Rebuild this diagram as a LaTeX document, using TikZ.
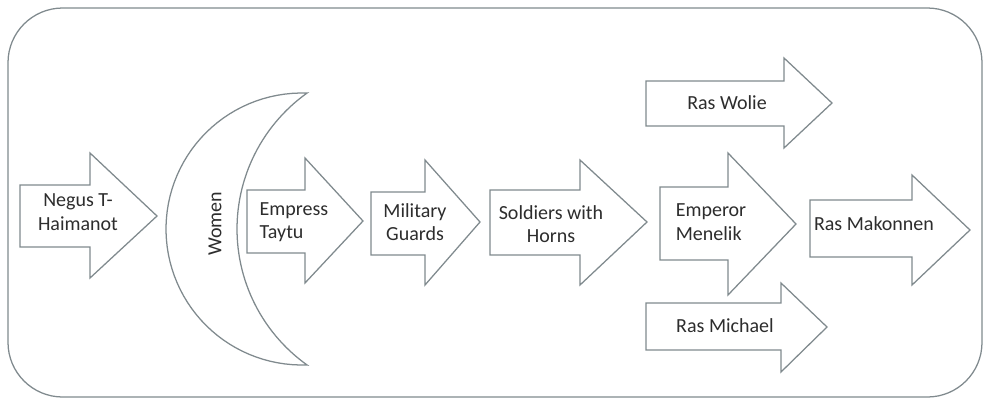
\documentclass[tikz,border=0pt]{standalone}
\usepackage{fontspec}
\setmainfont{Carlito}
\definecolor{framegray}{RGB}{128,138,142}
\definecolor{textgray}{RGB}{45,45,45}
\begin{document}
\begin{tikzpicture}[x=0.75pt,y=-0.75pt,
  blk/.style={draw=framegray,fill=white,line width=0.95pt,line join=miter},
  lbl/.style={text=textgray,font=\fontsize{15}{17.5}\selectfont,align=center,inner sep=0pt}]
\useasboundingbox (0,0) rectangle (986,401);

% Frame
\draw[framegray,line width=0.95pt,rounded corners=41pt] (8,8) rectangle (982,397);

% Block arrows
\draw[blk] (20,185) -- (90,185) -- (90,153) -- (157,216) -- (90,278) -- (90,247) -- (20,247) -- cycle;
\draw[blk] (247,190) -- (305,190) -- (305,158) -- (363,221) -- (305,283) -- (305,253) -- (247,253) -- cycle;
\draw[blk] (371,192) -- (425,192) -- (425,160) -- (480,222) -- (425,285) -- (425,255) -- (371,255) -- cycle;
\draw[blk] (490,190) -- (580,190) -- (580,160) -- (647,222) -- (580,285) -- (580,255) -- (490,255) -- cycle;
\draw[blk] (660,187) -- (728,187) -- (728,153) -- (796,224) -- (728,295) -- (728,260) -- (660,260) -- cycle;
\draw[blk] (810,200) -- (912,200) -- (912,175) -- (970,230) -- (912,285) -- (912,257) -- (810,257) -- cycle;
\draw[blk] (646,81) -- (784,81) -- (784,58) -- (832,103) -- (784,148) -- (784,126) -- (646,126) -- cycle;
\draw[blk] (646,303) -- (781,303) -- (781,283) -- (827,327) -- (781,372) -- (781,350) -- (646,350) -- cycle;

% Crescent
\draw[blk] plot[domain=-88:-272,samples=60] ({302+136*cos(\x)},{229+136*sin(\x)})
  -- plot[domain=125.5:234.5,samples=60] ({404+167*cos(\x)},{229+167*sin(\x)}) -- cycle;

% Labels
\node[lbl] (negus) at (78,212) {Negus T-\\Haimanot};
\node[lbl,rotate=90] (women) at (215,224) {Women};
\node[lbl,align=left] (taytu) at (294,222) {Empress\\Taytu};
\node[lbl] (guards) at (415,222) {Military\\Guards};
\node[lbl] (soldiers) at (551,224) {Soldiers with\\Horns};
\node[lbl,align=left] (menelik) at (711,222) {Emperor\\Menelik};
\node[lbl] (makonnen) at (874,224) {Ras Makonnen};
\node[lbl] (wolie) at (727,103) {Ras Wolie};
\node[lbl] (michael) at (725,326) {Ras Michael};
\end{tikzpicture}
\end{document}
